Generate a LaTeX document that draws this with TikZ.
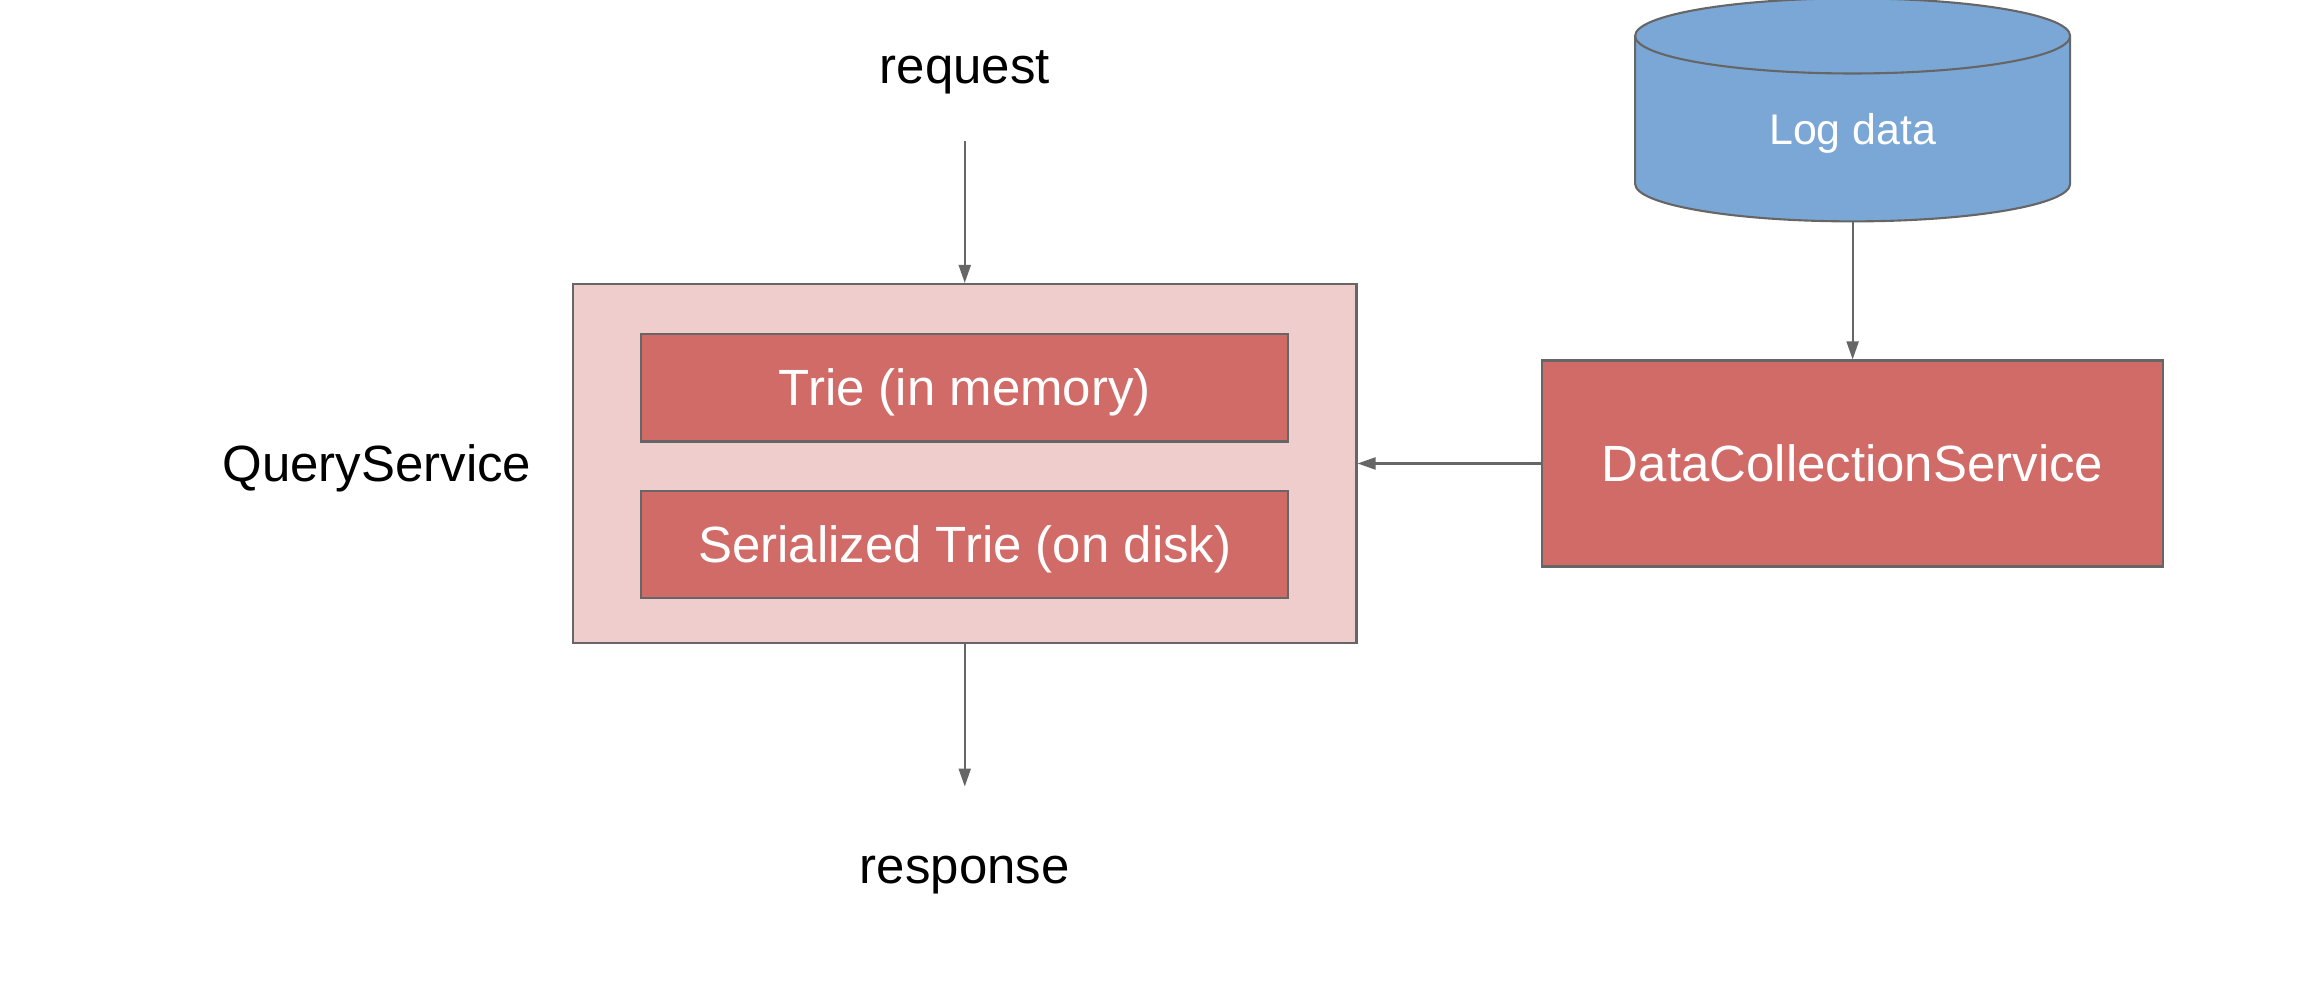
\documentclass[tikz,border=0pt]{standalone}
\usepackage{fontspec}
\setmainfont{Liberation Sans}
\usetikzlibrary{shapes,positioning,fit,calc,arrows.meta}

\definecolor{boxpink}{HTML}{EFCDCD}
\definecolor{boxred}{HTML}{D16B68}
\definecolor{dbblue}{HTML}{7BA7D7}
\definecolor{linegray}{HTML}{666666}

\begin{document}
\begin{tikzpicture}

        \def\d{.47cm}

        % Styles for the boxes, the store and the arrows
        \tikzset{
            every node/.style={inner sep=0pt, text height=0.365cm, text depth=0pt,
                font=\fontsize{14.5}{17}\selectfont},
            outerbox/.style={draw=linegray, fill=boxpink, line width=0.6pt,
                minimum width=7.835cm, minimum height=3.59cm},
            innerbox/.style={draw=linegray, fill=boxred, text=white, line width=0.6pt,
                minimum width=6.47cm, minimum height=1.075cm},
            servicebox/.style={draw=linegray, fill=boxred, text=white, line width=0.6pt,
                minimum width=6.21cm, minimum height=2.06cm},
            store/.style={cylinder, shape border rotate=90, aspect=0.45,
                draw=linegray, fill=dbblue, text=white, line width=0.6pt,
                minimum width=4.35cm, minimum height=2.23cm,
                text height=0.31cm, font=\fontsize{12.2}{14}\selectfont},
            flow/.style={draw=linegray, line width=0.6pt,
                -{Triangle[length=0.18cm, width=0.12cm]}}
        }

        \useasboundingbox (0, 0) rectangle (23.04, 9.82);

        % Scope used for the query side
        \begin{scope}
            \node (QS) [outerbox] at (9.6475, 5.185) {};
            \node (T1) [innerbox, below=.5cm of QS.north]
            {Trie (in memory)};
            \node (T2) [innerbox, below=\d of T1]
            {Serialized Trie (on disk)};
            \node (QL) [left=.4cm of QS] {QueryService};
            \node (RQ) [above=1.99cm of QS] {request};
            \node (RS) [below=2.025cm of QS] {response};
        \end{scope}

        % Scope used for the collection side
        \begin{scope}
            \node (DC) [servicebox, right=1.835cm of QS]
            {DataCollectionService};
            \node (LD) [store, above=1.37cm of DC] {Log data};
        \end{scope}

        \begin{scope}[flow]
            \draw[shorten <=.57cm] (RQ) -- (QS);
            \draw[shorten >=.6cm] (QS) -- (RS);
            \draw (LD) -- (DC);
            \draw (DC) -- (QS);
        \end{scope}

        \end{tikzpicture}
\end{document}
